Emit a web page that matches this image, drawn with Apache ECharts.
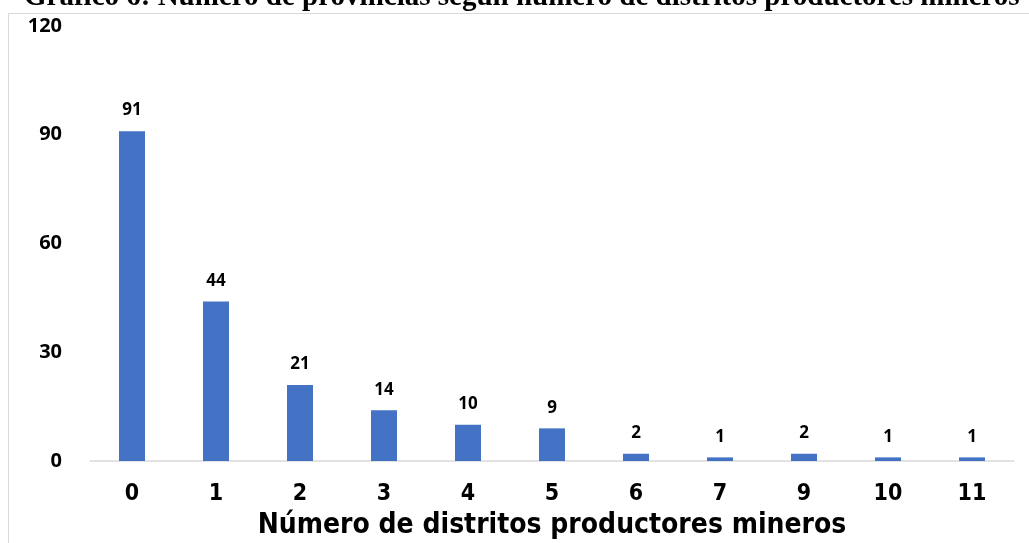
<!DOCTYPE html>
<html><head><meta charset="utf-8">
<script src="https://cdn.jsdelivr.net/npm/echarts@6/dist/echarts.min.js"></script>
<style>html,body{margin:0;padding:0;background:#fff;overflow:hidden}#c{width:1029px;height:543px}</style>
</head><body><div id="c"></div>
<script>
const categories = ['0','1','2','3','4','5','6','7','9','10','11'];
const values = [91,44,21,14,10,9,2,1,2,1,1];
const yTicks = [0,30,60,90,120];
const titleText = 'Gráfico 6: Número de provincias según número de distritos productores mineros';
const xName = 'Número de distritos productores mineros';

const chart = echarts.init(document.getElementById('c'));
chart.setOption({
  animation:false,
  graphic:[
    {type:'rect',shape:{x:8.5,y:13.5,width:1100,height:600},style:{fill:'none',stroke:'#d9d9d9',lineWidth:1}},
    {type:'text',left:24,top:-17,style:{text:titleText,font:'bold 29px "Liberation Serif"',fill:'#000'}}
  ],
  grid:{left:90,right:15,top:26,bottom:82,containLabel:false,outerBoundsMode:'none'},
  xAxis:{type:'category',data:categories,
    axisLine:{lineStyle:{color:'#d9d9d9',width:1.5}},axisTick:{show:false},
    axisLabel:{margin:22,color:'#000',fontWeight:'bold',fontSize:23,fontFamily:'"DejaVu Sans Condensed"'},
    name:xName,nameLocation:'middle',nameGap:51,
    nameTextStyle:{color:'#000',fontWeight:'bold',fontSize:28,fontFamily:'"DejaVu Sans Condensed"'}},
  yAxis:{type:'value',min:0,max:120,interval:30,
    splitLine:{show:false},axisLine:{show:false},axisTick:{show:false},
    axisLabel:{margin:28,color:'#000',fontWeight:'bold',fontSize:20,fontFamily:'"Open Sans"',
      formatter:v=>yTicks.includes(v)?String(v):''}},
  series:[{type:'bar',data:values,barWidth:26,itemStyle:{color:'#4472c4'},
    label:{show:true,position:'top',distance:12,color:'#000',fontWeight:'bold',fontSize:17,fontFamily:'"Open Sans"'}}]
});
</script></body></html>
